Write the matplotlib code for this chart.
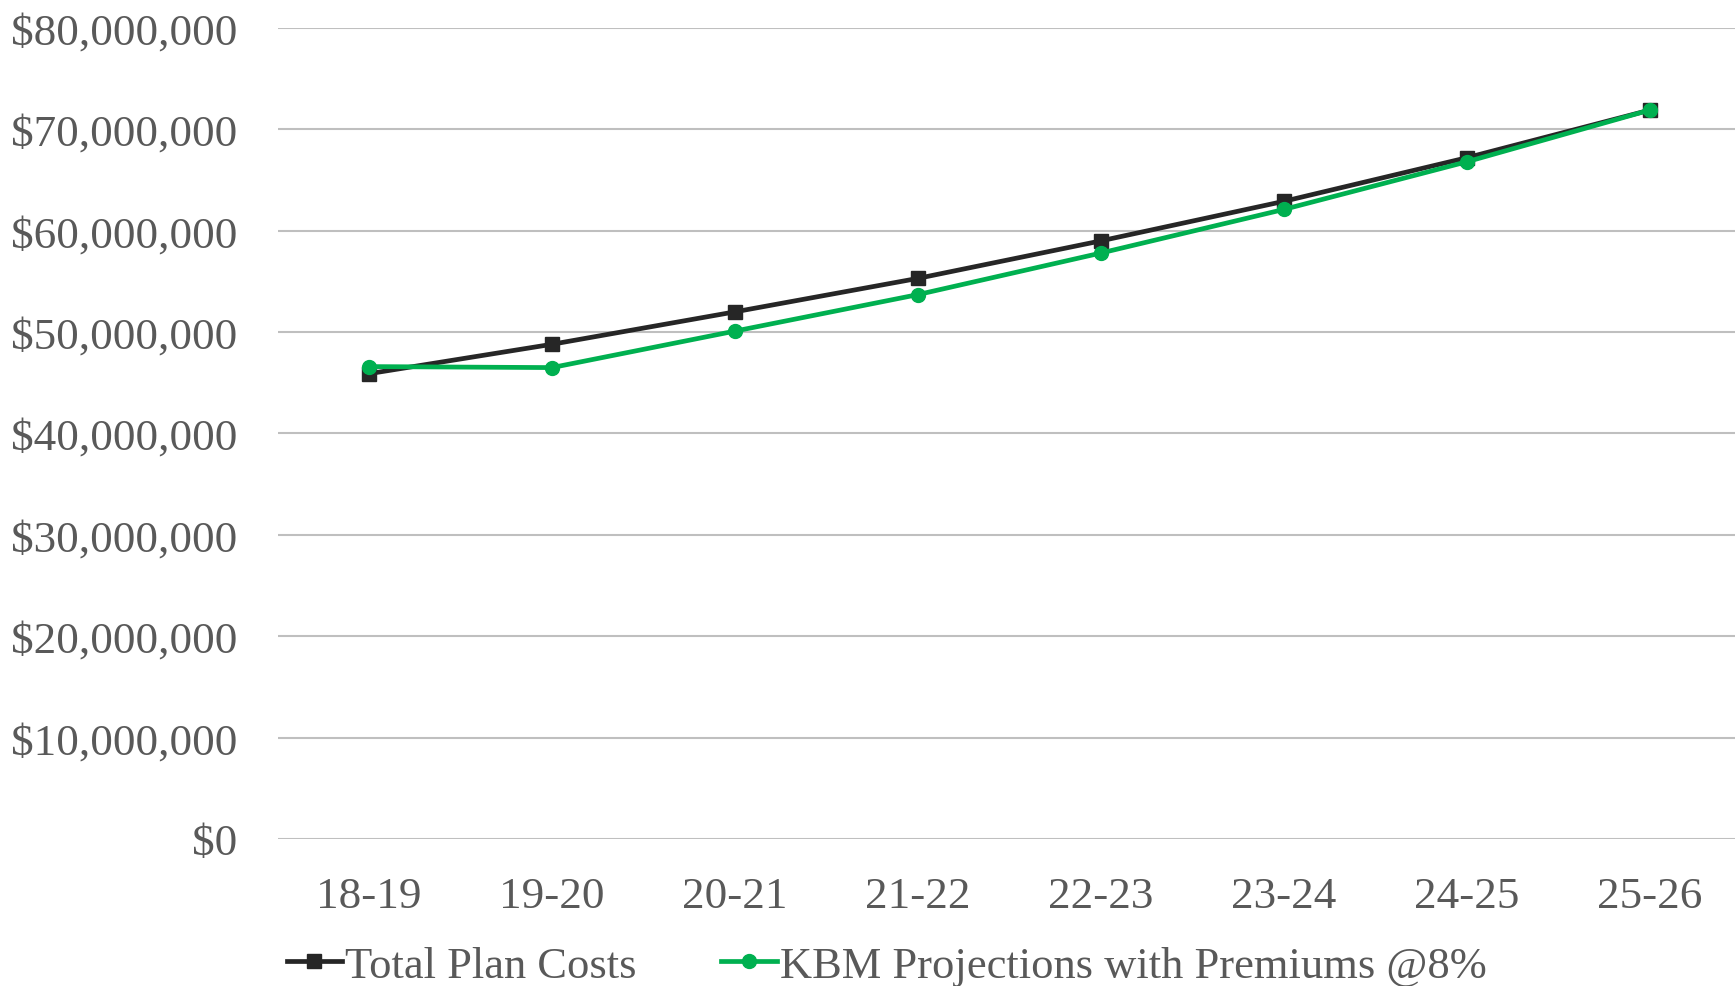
import matplotlib
matplotlib.use("Agg")
import matplotlib.pyplot as plt
from matplotlib.ticker import FuncFormatter

# --- Dati ---
years = ["18-19", "19-20", "20-21", "21-22", "22-23", "23-24", "24-25", "25-26"]
total_plan_costs = [45.9e6, 48.8e6, 52.0e6, 55.3e6, 59.0e6, 62.9e6, 67.2e6, 71.9e6]
kbm_projections = [46.6e6, 46.5e6, 50.1e6, 53.7e6, 57.8e6, 62.1e6, 66.8e6, 71.9e6]

plt.rcParams['font.family'] = ['Liberation Serif', 'DejaVu Serif']
text_color = '#595959'

fig = plt.figure(figsize=(17.35, 9.87), dpi=100)
ax = fig.add_axes([0.160, 0.1490, 0.8435, 0.8216])

x = range(len(years))
ax.plot(x, total_plan_costs, color='#262626', linewidth=3.4,
        marker='s', markersize=10.5, label='Total Plan Costs', zorder=3)
ax.plot(x, kbm_projections, color='#00B050', linewidth=3.4,
        marker='o', markersize=10, label='KBM Projections with Premiums @8%', zorder=4)

# Assi e griglia
ax.set_xlim(-0.5, len(years) - 0.5)
ax.set_ylim(0, 80e6)
ax.set_yticks([i * 10e6 for i in range(9)])
ax.yaxis.set_major_formatter(FuncFormatter(lambda v, p: f"${v:,.0f}"))
ax.set_xticks(list(x))
ax.set_xticklabels(years)
ax.grid(axis='y', color='#BFBFBF', linewidth=1.5)
ax.set_axisbelow(True)
for s in ax.spines.values():
    s.set_visible(False)
ax.tick_params(axis='both', length=0, labelsize=32.5, labelcolor=text_color)
ax.tick_params(axis='y', pad=29)
ax.tick_params(axis='x', pad=27)

leg = fig.legend(loc='center', bbox_to_anchor=(0.511, 0.0205), ncol=2,
                 frameon=False, fontsize=32, handlelength=1.25,
                 handletextpad=0.07, columnspacing=1.9, borderaxespad=0)
for t in leg.get_texts():
    t.set_color(text_color)

fig.savefig("out.png", dpi=100)
